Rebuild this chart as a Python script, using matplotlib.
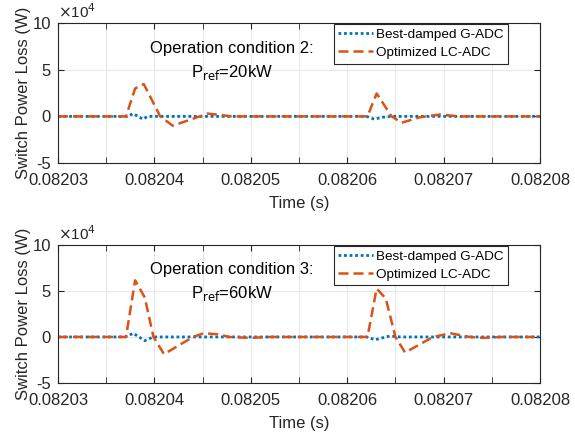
import matplotlib
matplotlib.use("Agg")
import matplotlib.pyplot as plt
import numpy as np

plt.rcParams['font.family'] = ['Liberation Sans', 'DejaVu Sans']

T0 = 0.08203
# time offsets in units of 1e-5 s, power in units of 1e4 W
# condition 2 (Pref = 20 kW)
t_lc2 = [0.0, 0.705, 0.80, 0.89, 1.06, 1.19, 1.47, 1.55, 1.65, 1.80, 3.21, 3.305, 3.46, 3.565, 3.75, 3.96, 4.17, 5.0]
p_lc2 = [0.0, 0.0, 3.0, 3.46, 0.0, -1.0, 0.0, 0.3, 0.2, 0.0, 0.0, 2.46, 0.0, -0.68, -0.1, 0.2, 0.0, 0.0]
t_gd2 = [0.0, 0.72, 0.78, 0.88, 0.93, 3.20, 3.28, 3.36, 3.45, 5.0]
p_gd2 = [0.0, 0.0, 0.3, -0.3, 0.0, 0.0, -0.3, -0.1, 0.0, 0.0]

# condition 3 (Pref = 60 kW)
t_lc3 = [0.0, 0.705, 0.80, 0.90, 0.99, 1.10, 1.40, 1.51, 1.65, 1.78, 1.99, 2.2, 3.21, 3.305, 3.40, 3.50, 3.60, 3.89, 4.07, 4.27, 4.41, 4.6, 5.0]
p_lc3 = [0.0, 0.0, 6.15, 4.28, 0.0, -1.87, 0.0, 0.4, 0.3, 0.0, -0.1, 0.0, 0.0, 5.25, 4.17, 0.0, -1.69, 0.0, 0.4, 0.0, -0.1, 0.0, 0.0]
t_gd3 = [0.0, 0.70, 0.78, 0.90, 0.99, 3.20, 3.29, 3.44, 3.55, 5.0]
p_gd3 = [0.0, 0.0, 0.4, -0.4, 0.0, 0.0, -0.3, 0.1, 0.0, 0.0]

conditions = ["Operation condition 2:", "Operation condition 3:"]
prefs = ["20kW", "60kW"]
xticks = [0.08203, 0.08204, 0.08205, 0.08206, 0.08207, 0.08208]

blue = '#0072BD'
orange = '#D95319'

fig = plt.figure(figsize=(5.75, 4.37), dpi=100)
ax1 = fig.add_axes([0.1009, 0.627, 0.8383, 0.320])
ax2 = fig.add_axes([0.1009, 0.1236, 0.8383, 0.316])

data = [(t_gd2, p_gd2, t_lc2, p_lc2), (t_gd3, p_gd3, t_lc3, p_lc3)]
for ax, (tg, pg, tl, pl), cond, pr in zip([ax1, ax2], data, conditions, prefs):
    ax.plot(T0 + np.array(tg) * 1e-5, pg, color=blue, lw=2, ls=(0, (1, 1)),
            label='Best-damped G-ADC')
    ax.plot(T0 + np.array(tl) * 1e-5, pl, color=orange, lw=1.8, ls=(0, (4, 2)),
            label='Optimized LC-ADC')
    ax.set_xlim(0.08203, 0.08208)
    ax.set_ylim(-5, 10)
    ax.set_yticks([-5, 0, 5, 10])
    ax.set_yticklabels(['-5', '0', '5', '10'])
    ax.set_xticks(xticks)
    ax.set_xticklabels([f'{x:.5f}' for x in xticks])
    ax.set_xticks(np.arange(0.082035, 0.08208, 0.00001), minor=True)
    ax.grid(True, which='both', color='#e8e8e8', lw=0.8)
    ax.set_axisbelow(True)
    ax.tick_params(which='both', direction='in', length=4, labelsize=12,
                   colors='#262626', top=True, right=True)
    ax.tick_params(axis='x', pad=7)
    ax.tick_params(axis='y', pad=5)
    for s in ax.spines.values():
        s.set_color('#262626')
        s.set_linewidth(0.8)
    ax.set_xlabel('Time (s)', fontsize=12, color='#262626', labelpad=6)
    ax.set_ylabel('Switch Power Loss (W)', fontsize=12, color='#262626', labelpad=1)
    ax.text(0.0, 1.015, r'$\times$10$^4$', transform=ax.transAxes, fontsize=11,
            color='#262626', ha='left', va='bottom')
    ax.text(0.36, 0.82, cond, transform=ax.transAxes, fontsize=12, ha='center', va='center')
    ax.text(0.36, 0.65, r'P$_{\mathrm{ref}}$=' + pr, transform=ax.transAxes,
            fontsize=12, ha='center', va='center')
    leg = ax.legend(loc='upper right', bbox_to_anchor=(0.934, 0.995), fontsize=9.7,
                    frameon=True, fancybox=False, edgecolor='#262626',
                    handlelength=2.6, handletextpad=0.2, borderpad=0.35,
                    labelspacing=0.4, borderaxespad=0.0, framealpha=1)
    leg.get_frame().set_linewidth(0.8)

fig.savefig('out.png', dpi=100)
